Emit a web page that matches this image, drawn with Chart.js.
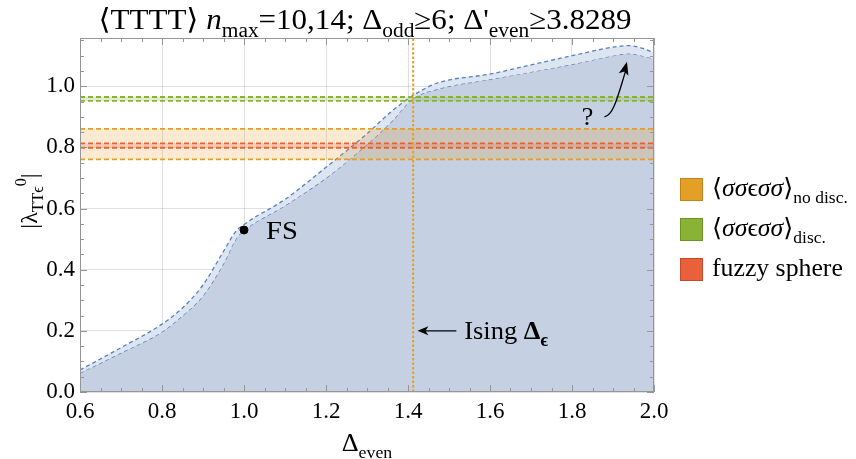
<!DOCTYPE html>
<html>
<head>
<meta charset="utf-8">
<script src="https://cdn.jsdelivr.net/npm/chart.js@4/dist/chart.umd.min.js"></script>
<style>
html,body{margin:0;padding:0;background:#fff;}
#wrap{width:856px;height:459px;position:relative;}
</style>
</head>
<body>
<div id="wrap"><canvas id="c" width="856" height="459"></canvas></div>
<script>
// ---- data ----
const deltaEven = [0.6,0.7,0.8,0.85,0.9,0.95,0.98,1.0,1.1,1.2,1.3,1.36,1.41,1.47,1.6,1.7,1.8,1.9,1.94,1.97,2.0];
const boundUpper = [0.072,0.145,0.222,0.275,0.35,0.46,0.525,0.548,0.63,0.735,0.845,0.918,0.968,1.01,1.04,1.07,1.10,1.128,1.133,1.125,1.11];
const boundLower = [0.062,0.128,0.197,0.25,0.315,0.42,0.50,0.528,0.61,0.70,0.81,0.885,0.958,0.99,1.023,1.047,1.072,1.10,1.107,1.10,1.09];
const bandNoDisc = [0.761, 0.861];   // <σσϵσσ> no disc.
const bandDisc = [0.952, 0.965];     // <σσϵσσ> disc.
const bandFuzzy = [0.799, 0.813];    // fuzzy sphere
const isingDelta = 1.4126;
const fsPoint = [1.0, 0.53];
const xRange = [0.6, 2.0];
const yRange = [0, 1.158];

const FAM = '"Liberation Serif", "DejaVu Serif", serif';
const C_BLUE_LINE = 'rgb(88,128,192)';
const C_ORANGE = 'rgb(228,160,38)';
const C_GREEN = 'rgb(138,178,52)';
const C_RED = 'rgb(234,96,58)';

function pts(xs, ys){ return xs.map((x,i)=>({x:x,y:ys[i]})); }
function hline(v){ return [{x:xRange[0],y:v},{x:xRange[1],y:v}]; }

function drawRich(ctx, parts, x, y, size, align, sx){
  sx = sx || 1;
  const fontFor = p => `${p.it?'italic ':''}${p.b?'bold ':''}${p.s?Math.round(size*0.68):size}px ${FAM}`;
  let w = 0;
  parts.forEach(p=>{ ctx.font = fontFor(p); p.w = ctx.measureText(p.t).width; w += p.w; });
  const W = w*sx;
  const x0 = align==='center' ? x - W/2 : (align==='right' ? x - W : x);
  ctx.save();
  ctx.translate(x0, y); ctx.scale(sx, 1);
  ctx.textAlign = 'left'; ctx.textBaseline = 'alphabetic';
  let cx = 0;
  parts.forEach(p=>{
    ctx.font = fontFor(p);
    const dy = p.s==='sub' ? size*0.27 : (p.s==='sup' ? -size*0.45 : 0);
    ctx.fillText(p.t, cx, dy);
    cx += p.w;
  });
  ctx.restore();
  return W;
}

const decor = {
  id: 'decor',
  afterDraw(chart){
    const ctx = chart.ctx, xs = chart.scales.x, ys = chart.scales.y, a = chart.chartArea;
    ctx.save();
    // frame
    ctx.strokeStyle = 'rgb(150,150,150)'; ctx.lineWidth = 1;
    ctx.strokeRect(a.left+0.5, a.top+0.5, a.right-a.left-1, a.bottom-a.top-1);
    // frame ticks
    ctx.beginPath();
    for(let i=0;;i++){
      const v = xRange[0] + i*0.05; if (v > xRange[1]+1e-9) break;
      const L = (i%4===0)?7:4, px = Math.round(xs.getPixelForValue(v))+0.5;
      ctx.moveTo(px, a.bottom); ctx.lineTo(px, a.bottom-L);
      ctx.moveTo(px, a.top); ctx.lineTo(px, a.top+L);
    }
    for(let i=0;;i++){
      const v = yRange[0] + i*0.05; if (v > yRange[1]+1e-9) break;
      const L = (i%4===0)?7:4, py = Math.round(ys.getPixelForValue(v))+0.5;
      ctx.moveTo(a.left, py); ctx.lineTo(a.left+L, py);
      ctx.moveTo(a.right, py); ctx.lineTo(a.right-L, py);
    }
    ctx.stroke();

    ctx.fillStyle = '#000'; ctx.strokeStyle = '#000';
    // title
    drawRich(ctx, [
      {t:'⟨TTTT⟩ '},{t:'n',it:true},{t:'max',s:'sub'},{t:'=10,14; Δ'},{t:'odd',s:'sub'},
      {t:'≥6; Δ\''},{t:'even',s:'sub'},{t:'≥3.8289'}
    ], 365, 29, 29, 'center', 1.07);
    // x label
    drawRich(ctx, [{t:'Δ'},{t:'even',s:'sub'}], 367, 451, 25, 'center', 1.05);
    // y label
    ctx.save(); ctx.translate(37, 201); ctx.rotate(-Math.PI/2);
    drawRich(ctx, [{t:'|λ'},{t:'TTϵ',s:'sub'},{t:'0',s:'sup'},{t:'|'}], 0, 0, 24, 'center', 1.0);
    ctx.restore();

    // FS label
    drawRich(ctx, [{t:'FS'}], xs.getPixelForValue(fsPoint[0])+22, ys.getPixelForValue(fsPoint[1])+9, 26, 'left', 1.1);

    // Ising arrow + label
    const ay = ys.getPixelForValue(0.2);
    const ax0 = xs.getPixelForValue(1.518), ax1 = xs.getPixelForValue(1.423);
    ctx.lineWidth = 1.3;
    ctx.beginPath(); ctx.moveTo(ax0, ay); ctx.lineTo(ax1+6, ay); ctx.stroke();
    ctx.beginPath(); ctx.moveTo(ax1, ay); ctx.lineTo(ax1+11, ay-4.5); ctx.lineTo(ax1+8, ay); ctx.lineTo(ax1+11, ay+4.5); ctx.closePath(); ctx.fill();
    drawRich(ctx, [{t:'Ising '},{t:'Δ',b:true},{t:'ϵ',s:'sub',b:true}], xs.getPixelForValue(1.537), ay+8, 26, 'left', 1.02);

    // "?" and curved arrow
    drawRich(ctx, [{t:'?'}], xs.getPixelForValue(1.838), ys.getPixelForValue(0.872), 26, 'center', 1.0);
    const p0 = [xs.getPixelForValue(1.879), ys.getPixelForValue(0.900)];
    const p3 = [xs.getPixelForValue(1.934), ys.getPixelForValue(1.080)];
    const c1 = [p0[0]+9, p0[1]-1], c2 = [p3[0]-9, p3[1]+34];
    ctx.lineWidth = 1.3;
    ctx.beginPath(); ctx.moveTo(p0[0],p0[1]); ctx.bezierCurveTo(c1[0],c1[1],c2[0],c2[1],p3[0]-1,p3[1]+8); ctx.stroke();
    const ang = Math.atan2(p3[1]-c2[1], p3[0]-c2[0]);
    ctx.save(); ctx.translate(p3[0],p3[1]); ctx.rotate(ang);
    ctx.beginPath(); ctx.moveTo(0,0); ctx.lineTo(-13,-5); ctx.lineTo(-10,0); ctx.lineTo(-13,5); ctx.closePath(); ctx.fill();
    ctx.restore();

    // legend
    const items = [
      {c:C_ORANGE, bc:'rgb(190,130,30)', parts:[{t:'⟨'},{t:'σσ',it:true},{t:'ϵ'},{t:'σσ',it:true},{t:'⟩'},{t:'no disc.',s:'sub'}]},
      {c:C_GREEN, bc:'rgb(110,145,40)', parts:[{t:'⟨'},{t:'σσ',it:true},{t:'ϵ'},{t:'σσ',it:true},{t:'⟩'},{t:'disc.',s:'sub'}]},
      {c:C_RED, bc:'rgb(195,75,45)', parts:[{t:'fuzzy sphere'}]}
    ];
    items.forEach((it,i)=>{
      const y0 = 178 + i*40;
      ctx.fillStyle = it.c; ctx.fillRect(680, y0, 23, 23);
      ctx.strokeStyle = it.bc; ctx.lineWidth = 1; ctx.strokeRect(680.5, y0+0.5, 22, 22);
      ctx.fillStyle = '#000';
      drawRich(ctx, it.parts, 712, y0+18, 25, 'left', 1.03);
    });
    ctx.restore();
  }
};

const dashBlue = {borderColor:C_BLUE_LINE, borderWidth:1.3, borderDash:[4,3], pointRadius:0, cubicInterpolationMode:'monotone'};
const bandLine = (col)=>({borderColor:col, borderWidth:1.8, borderDash:[5,3], pointRadius:0});

new Chart(document.getElementById('c'), {
  type: 'line',
  data: {
    datasets: [
      Object.assign({data: pts(deltaEven, boundLower), fill:'origin', backgroundColor:'rgb(197,209,227)', order:10}, dashBlue),
      Object.assign({data: pts(deltaEven, boundUpper), fill:'-1', backgroundColor:'rgb(221,229,241)', order:9}, dashBlue),
      Object.assign({data: hline(bandNoDisc[0]), fill:false, order:6}, bandLine(C_ORANGE)),
      Object.assign({data: hline(bandNoDisc[1]), fill:'-1', backgroundColor:'rgba(232,152,30,0.2)', order:5}, bandLine(C_ORANGE)),
      Object.assign({data: hline(bandFuzzy[0]), fill:false, order:4}, bandLine(C_RED)),
      Object.assign({data: hline(bandFuzzy[1]), fill:'-1', backgroundColor:'rgba(234,96,58,0.2)', order:3}, bandLine(C_RED)),
      Object.assign({data: hline(bandDisc[0]), fill:false, order:4}, bandLine(C_GREEN)),
      Object.assign({data: hline(bandDisc[1]), fill:'-1', backgroundColor:'rgba(138,178,52,0.25)', order:3}, bandLine(C_GREEN)),
      {data: [{x:isingDelta,y:yRange[0]},{x:isingDelta,y:yRange[1]}], borderColor:C_ORANGE, borderWidth:2, borderDash:[2.5,2], pointRadius:0, fill:false, order:2},
      {data: [{x:fsPoint[0], y:fsPoint[1]}], showLine:false, pointRadius:4, pointBackgroundColor:'#000', pointBorderColor:'#000', order:1}
    ]
  },
  options: {
    responsive: false,
    animation: false,
    devicePixelRatio: 1,
    layout: {padding: {top:38, right:202, left:0, bottom:0}},
    plugins: {legend:{display:false}, tooltip:{enabled:false}, title:{display:false}},
    scales: {
      x: {
        type:'linear', min:xRange[0], max:xRange[1], z:1,
        ticks:{stepSize:0.2, autoSkip:false, maxRotation:0, includeBounds:false, callback:v=>v.toFixed(1), color:'#000', font:{family:FAM, size:23}, padding:6},
        grid:{color:'rgba(0,0,0,0.12)', drawTicks:false},
        border:{display:false},
        afterFit: s=>{ s.height = 67; }
      },
      y: {
        type:'linear', min:yRange[0], max:yRange[1], z:1,
        ticks:{stepSize:0.2, includeBounds:false, callback:v=>v.toFixed(1), color:'#000', font:{family:FAM, size:23}, padding:5},
        grid:{color:'rgba(0,0,0,0.12)', drawTicks:false},
        border:{display:false},
        afterFit: s=>{ s.width = 80; }
      }
    }
  },
  plugins: [decor]
});
</script>
</body>
</html>
